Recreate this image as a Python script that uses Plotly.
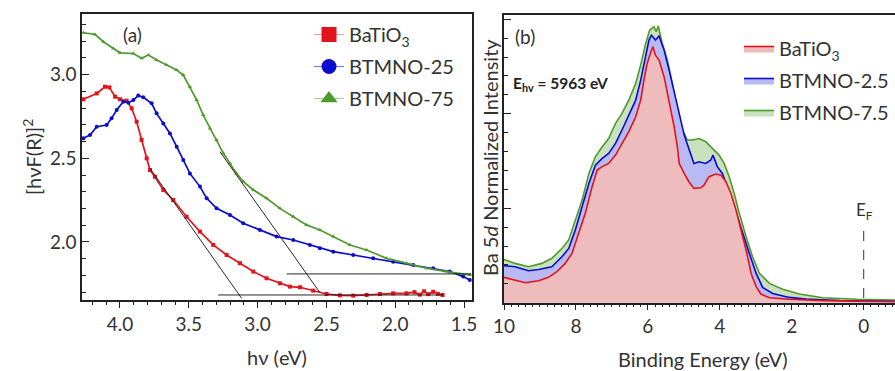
import plotly.graph_objects as go

# ---------------- Panel (a) data: [hvF(R)]^2 vs hv (eV) ----------------
bt_x = [4.266, 4.169, 4.109, 4.077, 4.036, 4.000, 3.952, 3.915, 3.879, 3.843, 3.806, 3.782,
        3.746, 3.685, 3.613, 3.516, 3.419, 3.322, 3.225, 3.128, 3.031, 2.935, 2.838, 2.765,
        2.692, 2.596, 2.499, 2.402, 2.305, 2.208, 2.111, 2.015, 1.918, 1.860, 1.821, 1.790,
        1.760, 1.724, 1.690, 1.656]
bt_y = [2.853, 2.888, 2.928, 2.924, 2.869, 2.853, 2.845, 2.799, 2.719, 2.610, 2.500, 2.430,
        2.390, 2.311, 2.251, 2.151, 2.062, 1.982, 1.922, 1.873, 1.823, 1.783, 1.753, 1.733,
        1.729, 1.709, 1.689, 1.681, 1.679, 1.683, 1.689, 1.693, 1.693, 1.700, 1.685, 1.705,
        1.688, 1.702, 1.690, 1.683]

b25_x = [4.266, 4.218, 4.169, 4.097, 4.061, 4.024, 3.976, 3.939, 3.903, 3.867, 3.831, 3.770,
         3.734, 3.685, 3.637, 3.588, 3.540, 3.492, 3.419, 3.370, 3.298, 3.201, 3.104, 2.983,
         2.862, 2.741, 2.620, 2.547, 2.450, 2.305, 2.160, 2.015, 1.869, 1.724, 1.603, 1.506,
         1.458]
b25_y = [2.620, 2.639, 2.689, 2.699, 2.739, 2.789, 2.839, 2.833, 2.849, 2.875, 2.865, 2.829,
         2.769, 2.709, 2.649, 2.570, 2.490, 2.410, 2.331, 2.261, 2.201, 2.161, 2.112, 2.072,
         2.032, 2.012, 1.982, 1.962, 1.942, 1.922, 1.902, 1.882, 1.863, 1.843, 1.823, 1.793,
         1.773]

b75_x = [4.266, 4.182, 4.121, 4.048, 4.000, 3.903, 3.843, 3.794, 3.734, 3.661, 3.588, 3.540,
         3.492, 3.443, 3.395, 3.346, 3.298, 3.249, 3.201, 3.153, 3.104, 3.031, 2.935, 2.838,
         2.741, 2.644, 2.547, 2.450, 2.329, 2.208, 2.063, 1.918, 1.772, 1.627, 1.458]
b75_y = [3.251, 3.241, 3.197, 3.157, 3.131, 3.127, 3.098, 3.118, 3.088, 3.058, 3.028, 2.998,
         2.928, 2.849, 2.759, 2.679, 2.610, 2.530, 2.470, 2.410, 2.361, 2.311, 2.261, 2.201,
         2.151, 2.102, 2.072, 2.032, 1.982, 1.952, 1.902, 1.873, 1.843, 1.823, 1.803]

# tangent / baseline construction lines (endpoints)
tan_bt_x = [3.782, 3.116]
tan_bt_y = [2.440, 1.663]
base_bt_x = [3.286, 1.651]
base_bt_y = [1.683, 1.683]
tan_75_x = [3.274, 2.547]
tan_75_y = [2.540, 1.697]
base_75_x = [2.789, 1.446]
base_75_y = [1.809, 1.809]

# ---------------- Panel (b) data: Ba 5d normalized intensity vs binding energy ----------------
r_x = [10.0, 9.69, 9.41, 9.04, 8.76, 8.53, 8.30, 8.11, 7.93, 7.74, 7.55, 7.41, 7.27, 7.09, 6.90,
       6.72, 6.53, 6.34, 6.20, 6.11, 6.02, 5.93, 5.86, 5.79, 5.69, 5.55, 5.41, 5.27, 5.18, 5.13,
       4.99, 4.86, 4.72, 4.53, 4.44, 4.30, 4.11, 3.97, 3.83, 3.69, 3.55, 3.41, 3.27, 3.13, 2.99,
       2.86, 2.62, 2.07, 1.13, 0.0, -0.87]
r_y = [1.34, 1.20, 1.06, 1.16, 1.34, 1.64, 2.08, 2.61, 3.67, 4.73, 6.14, 7.02, 7.20, 7.37, 7.81,
       8.43, 9.05, 9.84, 10.72, 11.78, 12.66, 13.19, 13.54, 13.10, 12.84, 11.96, 10.72, 9.31, 8.25,
       7.37, 6.84, 6.40, 6.05, 6.08, 6.22, 6.67, 6.81, 6.75, 6.40, 5.78, 4.90, 3.84, 2.79, 1.55,
       0.85, 0.46, 0.26, 0.18, 0.11, 0.07, 0.05]

bl_x = [10.0, 9.69, 9.32, 9.04, 8.67, 8.39, 8.20, 8.02, 7.83, 7.64, 7.46, 7.27, 7.09, 6.90, 6.72,
        6.53, 6.34, 6.20, 6.06, 5.97, 5.90, 5.79, 5.69, 5.55, 5.41, 5.27, 5.13, 4.99, 4.86, 4.72,
        4.58, 4.39, 4.25, 4.19, 4.07, 3.93, 3.79, 3.65, 3.51, 3.37, 3.18, 2.99, 2.81, 2.53, 2.07,
        1.60, 0.67, -0.87]
bl_y = [1.96, 1.90, 1.69, 1.76, 1.90, 2.43, 2.87, 3.84, 5.08, 6.31, 7.28, 7.64, 7.90, 8.43, 9.14,
        9.93, 10.72, 11.78, 13.02, 13.90, 14.16, 13.90, 14.11, 13.37, 12.31, 11.08, 10.02, 8.87,
        8.17, 7.37, 7.46, 7.37, 7.55, 7.81, 7.20, 6.84, 6.14, 5.43, 4.55, 3.67, 2.61, 1.55, 0.81,
        0.49, 0.28, 0.19, 0.12, 0.07]

gr_x = [10.0, 9.69, 9.32, 8.95, 8.67, 8.39, 8.20, 8.02, 7.83, 7.64, 7.46, 7.27, 7.09, 6.90, 6.72,
        6.53, 6.34, 6.20, 6.06, 5.95, 5.83, 5.77, 5.71, 5.60, 5.46, 5.32, 5.18, 5.04, 4.90, 4.76,
        4.58, 4.39, 4.21, 4.02, 3.88, 3.74, 3.60, 3.46, 3.27, 3.09, 2.90, 2.62, 2.25, 1.79, 1.13,
        0.20, -0.87]
gr_y = [2.29, 2.08, 1.90, 2.08, 2.35, 2.87, 3.32, 4.37, 5.43, 6.84, 7.72, 8.25, 8.69, 9.49, 10.02,
        10.72, 11.60, 12.58, 13.72, 14.43, 14.60, 14.34, 14.64, 13.72, 12.84, 11.60, 10.19, 9.14,
        8.61, 8.61, 8.69, 8.52, 8.17, 7.81, 7.37, 6.67, 5.78, 4.73, 3.49, 2.43, 1.55, 1.02, 0.71,
        0.46, 0.26, 0.18, 0.14]

ef_x = [0.0, 0.0]
ef_y = [0.25, 3.95]

names_a = ["BaTiO<sub>3</sub>", "BTMNO-25", "BTMNO-75"]
names_b = ["BaTiO<sub>3</sub>", "BTMNO-2.5", "BTMNO-7.5"]

RED, BLUE, GREEN = "#e3131b", "#0b0bd0", "#4f9a2c"
RED_F, BLUE_F, GREEN_F = "#eebcbc", "#b9b9f3", "#c9e2bd"
FONT = "Lato"
INK = "#222222"

W, H = 895, 371
def px(x):
    return x / W
def py(y):
    return 1 - y / H

fig = go.Figure()

# panel (a) data
for xs, ys, col, sym in [(bt_x, bt_y, RED, "square"), (b25_x, b25_y, BLUE, "circle"),
                         (b75_x, b75_y, GREEN, "triangle-up")]:
    fig.add_trace(go.Scatter(x=xs, y=ys, mode="lines+markers", xaxis="x", yaxis="y",
                             line=dict(color=col, width=1.7),
                             marker=dict(symbol=sym, size=4, color=col),
                             showlegend=False))
for xs, ys in [(tan_bt_x, tan_bt_y), (base_bt_x, base_bt_y), (tan_75_x, tan_75_y), (base_75_x, base_75_y)]:
    fig.add_trace(go.Scatter(x=xs, y=ys, mode="lines", xaxis="x", yaxis="y",
                             line=dict(color="#111111", width=0.9), showlegend=False))
# panel (a) legend entries
for i, (nm, col, lcol, sym) in enumerate([(names_a[0], RED, "#f2a3a3", "square"),
                                          (names_a[1], BLUE, "#7d7de6", "circle"),
                                          (names_a[2], GREEN, "#a9d296", "triangle-up")]):
    fig.add_trace(go.Scatter(x=[None], y=[None], mode="lines+markers", xaxis="x", yaxis="y",
                             name=nm, legend="legend", legendgroup="a%d" % i,
                             line=dict(color=lcol, width=1.2),
                             marker=dict(symbol=sym, size=15, color=col)))

# panel (b) filled curves (back to front)
for xs, ys, col, fcol, nm, rk in [(gr_x, gr_y, GREEN, GREEN_F, names_b[2], 3),
                                  (bl_x, bl_y, BLUE, BLUE_F, names_b[1], 2),
                                  (r_x, r_y, RED, RED_F, names_b[0], 1)]:
    fig.add_trace(go.Scatter(x=xs, y=ys, mode="lines", xaxis="x2", yaxis="y2",
                             fill="tozeroy", fillcolor=fcol, line=dict(color=col, width=1.6),
                             name=nm, legend="legend2", legendrank=rk, legendgroup="b%d" % rk))
fig.add_trace(go.Scatter(x=ef_x, y=ef_y, mode="lines", xaxis="x2", yaxis="y2",
                         line=dict(color="#333333", width=1, dash="10px,9px"), showlegend=False))

axis_common = dict(showline=True, linecolor=INK, linewidth=1.5, showgrid=False, zeroline=False,
                   automargin=False, tickcolor=INK,
                   tickfont=dict(family=FONT, size=19, color="#333333"))

fig.update_layout(
    width=W, height=H, margin=dict(l=0, r=0, t=0, b=0, pad=0, autoexpand=False),
    paper_bgcolor="white", plot_bgcolor="white",
    font=dict(family=FONT, color="#333333"),
    xaxis=dict(domain=[px(82), px(472)], range=[4.276, 1.442], anchor="y", mirror=True,
               ticks="outside", ticklen=6, tickwidth=1.3, dtick=0.5, tick0=0, tickformat=".1f",
               minor=dict(ticks="outside", ticklen=3, dtick=0.1, tickcolor=INK, tickwidth=1),
               **axis_common),
    yaxis=dict(domain=[py(300), py(14)], range=[1.653, 3.363], anchor="x", mirror=True,
               ticks="inside", ticklen=7, tickwidth=1.3, dtick=0.5, tick0=0, tickformat=".1f",
               minor=dict(ticks="inside", ticklen=4, dtick=0.1, tickcolor=INK, tickwidth=1),
               **axis_common),
    xaxis2=dict(domain=[px(504), 1.0], range=[10.0, -0.87], anchor="y2", mirror=True,
                ticks="outside", ticklen=6, tickwidth=1.3, dtick=2, tick0=0,
                minor=dict(ticks="outside", ticklen=3, dtick=0.2, tickcolor=INK, tickwidth=1),
                **axis_common),
    yaxis2=dict(domain=[py(302.7), py(14.7)], range=[0, 15.24], anchor="x2",
                ticks="inside", ticklen=7, tickwidth=1.3, dtick=5, tick0=0, showticklabels=False,
                minor=dict(ticks="inside", ticklen=4, dtick=1, tickcolor=INK, tickwidth=1),
                **axis_common),
    legend=dict(x=px(309), y=py(15), xanchor="left", yanchor="top", bgcolor="rgba(0,0,0,0)",
                font=dict(family=FONT, size=20, color="#333333"), tracegroupgap=3),
    legend2=dict(x=px(739), y=py(29), xanchor="left", yanchor="top", bgcolor="rgba(0,0,0,0)",
                 font=dict(family=FONT, size=20, color="#333333"), tracegroupgap=3),
)

ann = []
def text(x, y, s, size=19, angle=0, xanchor="center", bold=False):
    ann.append(dict(x=px(x), y=py(y), xref="paper", yref="paper", text=s, showarrow=False,
                    textangle=angle, xanchor=xanchor, yanchor="middle",
                    font=dict(family=FONT, size=size, color="#222222" if bold else "#333333",
                              weight="bold" if bold else "normal")))
text(32, 157, "[hνF(R)]<sup>2</sup>", size=20, angle=-90)
text(277, 357, "hν (eV)", size=20)
text(703, 359, "Binding Energy (eV)", size=20)
text(490, 158, "Ba 5<i>d</i> Normalized Intensity", size=20, angle=-90)
text(132, 35, "(a)", size=19)
text(525, 37, "(b)", size=19)
text(511, 84, "E<sub>hv</sub> = 5963 eV", size=15.5, xanchor="left", bold=True)
text(864, 211, "E<sub>F</sub>", size=17)
fig.update_layout(annotations=ann)

fig.write_html("out.html", config={"displayModeBar": False},
               post_script="document.body.style.margin='0';document.body.style.padding='0';")
